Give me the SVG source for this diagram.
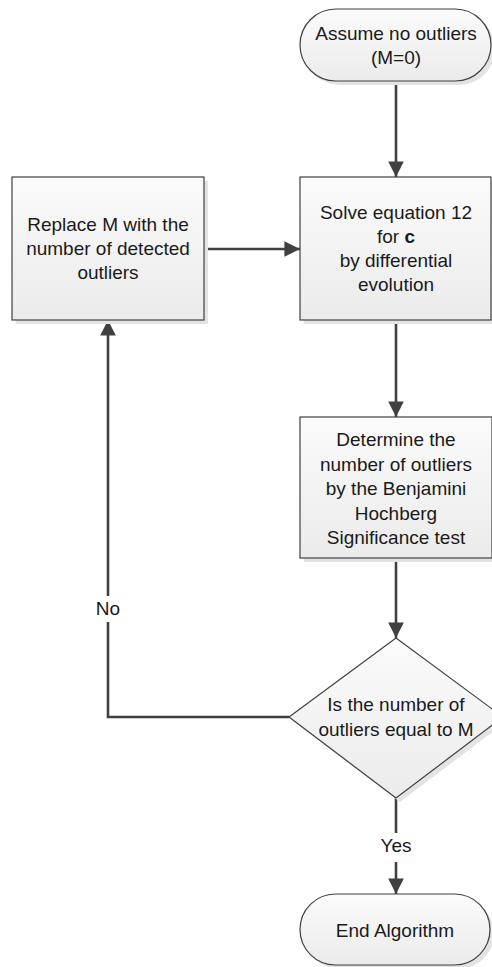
<svg xmlns="http://www.w3.org/2000/svg" width="492" height="967" viewBox="0 0 492 967">
<style>
.shape{fill:url(#g);stroke:#404040;stroke-width:1.2}
.shadow{fill:#e3e3e3;stroke:none}
.conn{fill:none;stroke:#404040;stroke-width:2.6}
text{font-family:"Liberation Sans",Arial,sans-serif;font-size:19px;fill:#1a1a1a;text-anchor:middle}
</style>
<defs>
<linearGradient id="g" x1="0" y1="0" x2="0" y2="1">
<stop offset="0" stop-color="#fbfbfb"/>
<stop offset="1" stop-color="#ebebeb"/>
</linearGradient>
<marker id="ah" viewBox="0 0 10 10" refX="10" refY="5" markerWidth="6" markerHeight="6" markerUnits="strokeWidth" orient="auto">
<path d="M0,0 L10,5 L0,10 z" fill="#404040"/>
</marker>
</defs>
<rect width="492" height="967" fill="#ffffff"/>

<g id="connectors">
<line class="conn" x1="396" y1="81" x2="396" y2="177" marker-end="url(#ah)"/>
<line class="conn" x1="396" y1="320" x2="396" y2="417" marker-end="url(#ah)"/>
<line class="conn" x1="396" y1="558" x2="396" y2="638" marker-end="url(#ah)"/>
<line class="conn" x1="396" y1="798" x2="396" y2="833"/>
<line class="conn" x1="396" y1="862" x2="396" y2="894" marker-end="url(#ah)"/>
<text x="396" y="852">Yes</text>
<polyline class="conn" points="289,717 108,717 108,622"/>
<line class="conn" x1="108" y1="596" x2="108" y2="320" marker-end="url(#ah)"/>
<text x="108" y="615">No</text>
<line class="conn" x1="204" y1="249" x2="300" y2="249" marker-end="url(#ah)"/>
</g>

<g id="start">
<rect class="shadow" x="304" y="13" width="191" height="72" rx="36"/>
<rect class="shape" x="300" y="9" width="191" height="72" rx="36"/>
<text x="396" y="40">Assume no outliers</text>
<text x="396" y="64">(M=0)</text>
</g>

<g id="solve">
<rect class="shadow" x="304" y="181" width="191" height="143"/>
<rect class="shape" x="300" y="177" width="191" height="143"/>
<text x="396" y="219">Solve equation 12</text>
<text x="396" y="243">for <tspan font-weight="bold">c</tspan></text>
<text x="396" y="267">by differential</text>
<text x="396" y="291">evolution</text>
</g>

<g id="replace">
<rect class="shadow" x="16" y="181" width="192" height="143"/>
<rect class="shape" x="12" y="177" width="192" height="143"/>
<text x="108" y="231">Replace M with the</text>
<text x="108" y="255">number of detected</text>
<text x="108" y="279">outliers</text>
</g>

<g id="determine">
<rect class="shadow" x="304" y="421" width="192" height="141"/>
<rect class="shape" x="300" y="417" width="192" height="141"/>
<text x="396" y="446">Determine the</text>
<text x="396" y="470.5">number of outliers</text>
<text x="396" y="495">by the Benjamini</text>
<text x="396" y="519.5">Hochberg</text>
<text x="396" y="544">Significance test</text>
</g>

<g id="decision">
<polygon class="shadow" points="400,642 507,721 400,802 293,721"/>
<polygon class="shape" points="396,638 503,717 396,798 289,717"/>
<text x="396" y="711">Is the number of</text>
<text x="396" y="736">outliers equal to M</text>
</g>

<g id="end">
<rect class="shadow" x="304" y="898" width="190" height="71" rx="35.5"/>
<rect class="shape" x="300" y="894" width="190" height="71" rx="35.5"/>
<text x="395" y="937">End Algorithm</text>
</g>
</svg>
